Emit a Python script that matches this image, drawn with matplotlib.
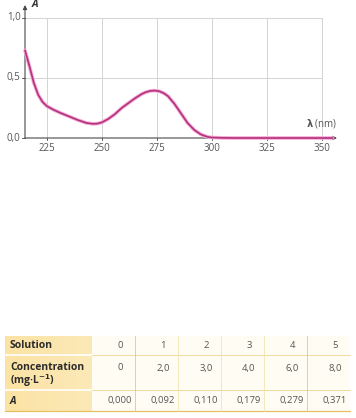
import numpy as np
import matplotlib
matplotlib.use('Agg')
import matplotlib.pyplot as plt
from matplotlib.patches import Rectangle
from matplotlib.colors import LinearSegmentedColormap

plt.rcParams['font.family'] = ['Open Sans', 'DejaVu Sans']

# spectre d'absorption
wavelength = [215, 217, 219, 221, 223, 225, 228, 231, 235, 239, 243, 246, 248, 250,
              253, 256, 259, 262, 265, 268, 270, 272, 274, 276, 278, 280, 283, 286,
              289, 292, 295, 298, 300, 305, 310, 320, 330, 340, 350, 355]
absorb = [0.73, 0.60, 0.46, 0.36, 0.30, 0.265, 0.235, 0.21, 0.18, 0.15, 0.125, 0.118,
          0.12, 0.13, 0.16, 0.20, 0.25, 0.29, 0.33, 0.365, 0.382, 0.392, 0.395, 0.39,
          0.375, 0.35, 0.285, 0.205, 0.125, 0.068, 0.03, 0.01, 0.004, 0.001, 0, 0, 0,
          0, 0, 0]

xticks = [225, 250, 275, 300, 325, 350]
yticks = [0.0, 0.5, 1.0]
ytick_labels = ['0,0', '0,5', '1,0']

# tableau
solutions = ['0', '1', '2', '3', '4', '5']
concentrations = ['0', '2,0', '3,0', '4,0', '6,0', '8,0']
absorbances = ['0,000', '0,092', '0,110', '0,179', '0,279', '0,371']

W, H = 356, 418
fig = plt.figure(figsize=(W / 100, H / 100), dpi=100)

# ---- graphique ----
ax = fig.add_axes([25 / W, (H - 138) / H, 312 / W, 133 / H])
ax.set_xlim(215, 357)
ax.set_ylim(0, 1.108)
for s in ax.spines.values():
    s.set_visible(False)
ax.set_xticks([])
ax.set_yticks([])

grid_c = '#d4d4d4'
for x in xticks:
    ax.plot([x, x], [0, 1.0], color=grid_c, lw=0.7, zorder=1)
for y in [0.5, 1.0]:
    ax.plot([215, 350], [y, y], color=grid_c, lw=0.7, zorder=1)

axis_c = '#4a4a4a'
ax.annotate('', xy=(357, 0), xytext=(215, 0),
            arrowprops=dict(arrowstyle='-|>', color=axis_c, lw=0.8,
                            mutation_scale=6, shrinkA=0, shrinkB=0),
            annotation_clip=False, zorder=2)
ax.annotate('', xy=(215, 1.108), xytext=(215, 0),
            arrowprops=dict(arrowstyle='-|>', color=axis_c, lw=0.8,
                            mutation_scale=6, shrinkA=0, shrinkB=0),
            annotation_clip=False, zorder=2)

tick_c = '#555555'
for x in xticks:
    ax.plot([x, x], [0, -0.02], color=axis_c, lw=0.6, clip_on=False)
    ax.text(x, -0.04, str(x), ha='center', va='top', fontsize=7, color=tick_c)
for y, lab in zip(yticks, ytick_labels):
    ax.plot([215, 213.5], [y, y], color=axis_c, lw=0.6, clip_on=False)
    ax.text(213, y, lab, ha='right', va='center', fontsize=7, color=tick_c)

ax.text(218, 1.11, 'A', ha='left', va='center', fontsize=7.5,
        fontweight='bold', style='italic', color='#333333')
ax.text(357, 0.065, r'$\mathbf{\lambda}$ (nm)', ha='right', va='bottom',
        fontsize=7, color=tick_c)

ax.plot(wavelength, absorb, color='#f6a9d4', lw=2.6, solid_capstyle='round',
        solid_joinstyle='round', zorder=3, clip_on=False)
ax.plot(wavelength, absorb, color='#b3327e', lw=1.2, solid_capstyle='round',
        solid_joinstyle='round', zorder=4, clip_on=False)

# ---- tableau ----
tx = fig.add_axes([0, 0, 1, 1])
tx.axis('off')

left, head_r = 5, 92
col_w = 43
rows = [(336, 355), (355, 390), (390, 411)]
n = len(solutions)
right = head_r + n * col_w

# fond colonne d'en-tete (leger degrade)
cmap = LinearSegmentedColormap.from_list('hdr', ['#fbe3a4', '#fce9b8'])
grad = np.linspace(0, 1, 100).reshape(1, -1)
tx.imshow(grad, cmap=cmap, extent=[left, head_r, rows[-1][1], rows[0][0]],
          aspect='auto', zorder=1)
tx.add_patch(Rectangle((head_r, rows[0][0]), right - head_r, rows[-1][1] - rows[0][0],
                       facecolor='#fffcf3', edgecolor='none', zorder=1))
tx.set_xlim(0, W)
tx.set_ylim(H, 0)

line_c = '#f0d690'
for (_, y1) in rows[:-1]:
    tx.plot([left, head_r], [y1, y1], color='white', lw=1.2, zorder=2)
    tx.plot([head_r, right], [y1, y1], color=line_c, lw=0.6, zorder=2)
tx.plot([left, right], [rows[-1][1], rows[-1][1]], color='#e6c060', lw=0.9, zorder=2)
for i in range(1, n):
    xv = head_r + i * col_w
    c = '#e8c77a' if i in (1, 5) else '#f3e3b4'
    tx.plot([xv, xv], [rows[0][0], rows[-1][1]], color=c, lw=0.6, zorder=2)

hdr_c = '#2b2b2b'
tx.text(left + 5, 346, 'Solution', fontsize=7.5, fontweight='bold', color=hdr_c,
        va='center', ha='left', zorder=3)
tx.text(left + 5, 367, 'Concentration', fontsize=7.5, fontweight='bold', color=hdr_c,
        va='center', ha='left', zorder=3)
tx.text(left + 5, 381, r'(mg·L$^{\mathbf{-1}}$)', fontsize=7.5, fontweight='bold',
        color=hdr_c, va='center', ha='left', zorder=3)
tx.text(left + 5, 401, 'A', fontsize=7.5, fontweight='bold', style='italic',
        color=hdr_c, va='center', ha='left', zorder=3)

val_c = '#555555'
for i in range(n):
    cx = head_r + (i + 1) * col_w - 15
    tx.text(cx, 346, solutions[i], fontsize=6.8, color=val_c, ha='center', va='center', zorder=3)
    tx.text(cx, 368, concentrations[i], fontsize=6.8, color=val_c, ha='center', va='center', zorder=3)
    tx.text(cx, 401, absorbances[i], fontsize=6.8, color=val_c, ha='center', va='center', zorder=3)

fig.savefig('out.png', dpi=100)
